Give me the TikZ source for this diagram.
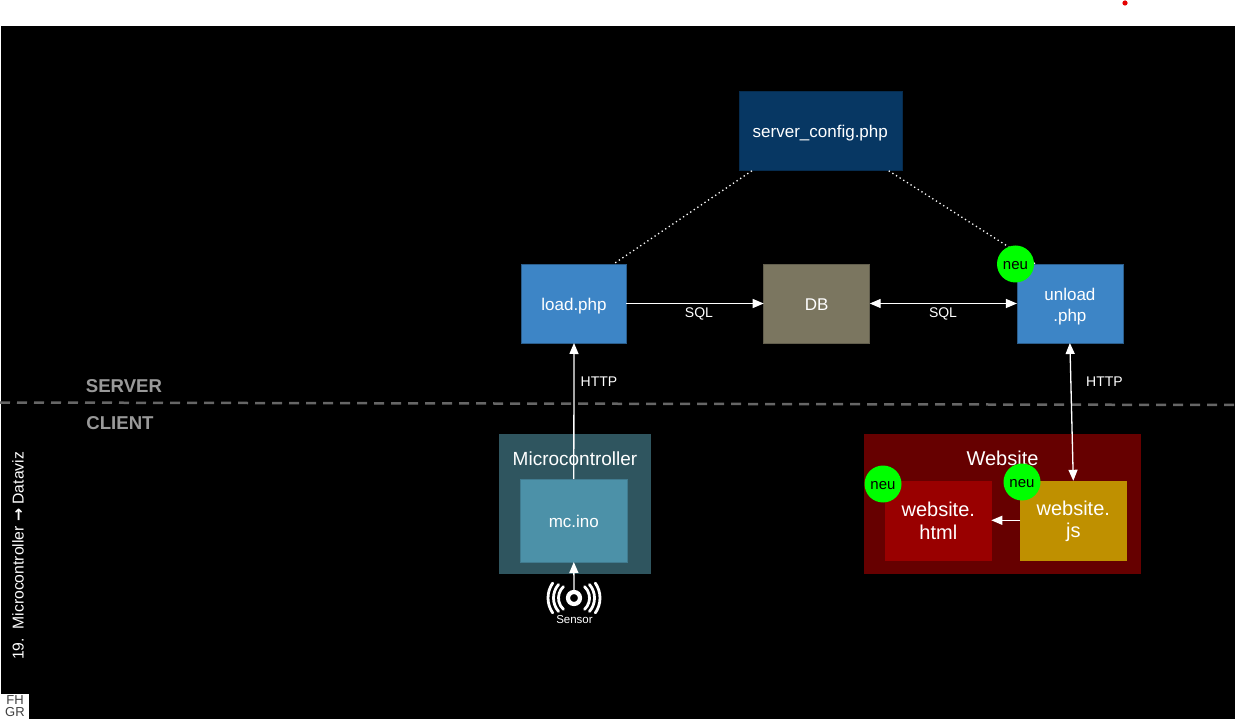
\documentclass[tikz,border=0pt]{standalone}
\usepackage{fontspec}
\setmainfont{Liberation Sans}
\newfontfamily\dvfont{DejaVu Sans}
\usetikzlibrary{arrows.meta}
\definecolor{cfgc}{HTML}{073763}
\definecolor{phpc}{HTML}{3D85C6}
\definecolor{dbc}{HTML}{7B7660}
\definecolor{mcoc}{HTML}{2F555F}
\definecolor{inoc}{HTML}{4C91A8}
\definecolor{webc}{HTML}{660000}
\definecolor{htmc}{HTML}{990000}
\definecolor{jsc}{HTML}{BF9000}
\definecolor{neuc}{HTML}{00FF00}
\definecolor{laneg}{HTML}{999999}
\newcommand{\px}[1]{\fontsize{#1}{#1}\selectfont}
\newcommand{\low}[2][2pt]{\raisebox{-#1}[\height][\depth]{#2}}
\tikzset{
  panel/.style={rectangle,inner sep=0pt,outer sep=0pt,text=white,align=center,line width=0.6pt},
  link/.style={white,line width=1.3pt},
  tipped/.style={link,-{Triangle[width=9pt,length=11pt]}},
  bitipped/.style={link,{Triangle[width=9pt,length=11pt]}-{Triangle[width=9pt,length=11pt]}},
  dots/.style={white,line width=1.3pt,dash pattern=on 1.3pt off 3pt},
  neu/.style={circle,fill=neuc,text=black,inner sep=0pt,outer sep=0pt,minimum size=37pt,font=\px{15}},
  tag/.style={text=white,font=\px{14},inner sep=0pt},
  lane/.style={text=laneg,font=\bfseries\px{18.6},inner sep=0pt},
}
\begin{document}
\begin{tikzpicture}[x=1pt,y=-1pt]
\useasboundingbox (0,0) rectangle (1235,719);
\fill[white] (0,0) rectangle (1235,719);
\fill[black] (1,26) rectangle (1235,719);
\fill[red!90!black] (1125,3) circle (2.6pt);
% lanes
\coordinate (laneL) at (0,402.5);
\coordinate (laneR) at (1235,405);
\draw[draw=black!60!white,line width=2.5pt,dash pattern=on 10pt off 7pt] (laneL) -- (laneR);
\node[lane] (server) at (124,386) {SERVER};
\node[lane] (client) at (120,423) {CLIENT};
% containers
\node[panel,fill=mcoc,draw=mcoc,minimum width=151pt,minimum height=139pt] (mco) at (575,504) {};
\node[panel,fill=webc,draw=webc,minimum width=276pt,minimum height=139pt] (web) at (1002.5,503.5) {};
\node[text=white,font=\px{19},inner sep=0pt] (mcolabel) at (575,458.5) {Microcontroller};
\node[text=white,font=\px{20},inner sep=0pt] (weblabel) at (1002.5,458) {Website};
% boxes
\node[panel,fill=cfgc,draw=cfgc!80!black,minimum width=163pt,minimum height=79pt,font=\px{17}] (cfg) at (820.3,131.3) {\low{server\_config.php}};
\node[panel,fill=phpc,draw=phpc!70!black,minimum width=104.5pt,minimum height=79pt,font=\px{17}] (load) at (574,303.5) {\low[2.5pt]{load.php}};
\node[panel,fill=dbc,draw=dbc!80!black,minimum width=106pt,minimum height=79pt,font=\px{17}] (db) at (816.7,303.5) {\low[1pt]{DB}};
\node[panel,fill=phpc,draw=phpc!70!black,minimum width=106pt,minimum height=79pt,font=\px{17}] (unload) at (1069.9,303.5) {\low[3pt]{unload}\\[4pt]\low[3pt]{.php}};
\node[panel,fill=inoc,draw=inoc!85!black,minimum width=107pt,minimum height=83pt,font=\px{17}] (ino) at (573.8,520.5) {\low[1pt]{mc.ino}};
\node[panel,fill=htmc,draw=htmc,minimum width=106pt,minimum height=79pt,font=\px{20}] (html) at (938.3,520.3) {\low[1pt]{website.}\\[3pt]\low[1pt]{html}};
\node[panel,fill=jsc,draw=jsc,minimum width=106pt,minimum height=79pt,font=\px{20}] (js) at (1073.3,520.3) {\low[1.5pt]{website.}\\[3pt]\low[1pt]{js}};
% sensor
\node[circle,draw=white,line width=4.2pt,minimum size=12pt,inner sep=0pt,outer sep=2.1pt] (sensor) at (574,598) {};
\foreach \r/\a in {15.5/47,20.5/41,26/35}{
  \draw[white,line width=2.8pt,line cap=round] (sensor.center) ++(-\a:\r pt) arc[start angle=-\a,end angle=\a,radius=\r pt];
  \draw[white,line width=2.8pt,line cap=round] (sensor.center) ++(180-\a:\r pt) arc[start angle=180-\a,end angle=180+\a,radius=\r pt];
}
\node[text=white,font=\px{11.5},inner sep=0pt] (sensorlabel) at (574.5,620) {Sensor};
% connectors
\draw[dots] (cfg.210) -- (load.45);
\draw[dots] (cfg.330) -- (unload.131.5);
\draw[tipped] (ino.north) -- (load.south);
\draw[tipped] (sensor.north) -- (ino.south);
\draw[tipped] (load) -- (db);
\draw[bitipped] (db) -- (unload);
\draw[bitipped] (unload.south) -- (js.north);
\draw[tipped] (js) -- (html);
% labels
\node[tag] (sql1) at (699,314) {SQL};
\node[tag] (sql2) at (943,314) {SQL};
\node[tag] (http1) at (599,381.5) {HTTP};
\node[tag] (http2) at (1104.5,381.5) {HTTP};
% neu
\node[neu] (neuA) at (1015.5,264) {\low[1.5pt]{neu}};
\node[neu] (neuB) at (883,484) {\low[1.5pt]{neu}};
\node[neu] (neuC) at (1022,482) {\low[1.5pt]{neu}};
% side
\node[rotate=90,text=white,font=\px{15.7},inner sep=0pt,anchor=west] (title) at (18,660) {19.\ \ Microcontroller {\dvfont\bfseries →} Dataviz};
\node[rectangle,fill=white,minimum width=28pt,minimum height=26pt,inner sep=0pt,outer sep=0pt] (logo) at (15,707) {};
\node[text=black!75!white,font=\px{13},align=center,inner sep=0pt] (logoA) at (15,700) {FH};
\node[text=black!75!white,font=\px{13},align=center,inner sep=0pt] (logoB) at (15,712) {GR};
\end{tikzpicture}
\end{document}
